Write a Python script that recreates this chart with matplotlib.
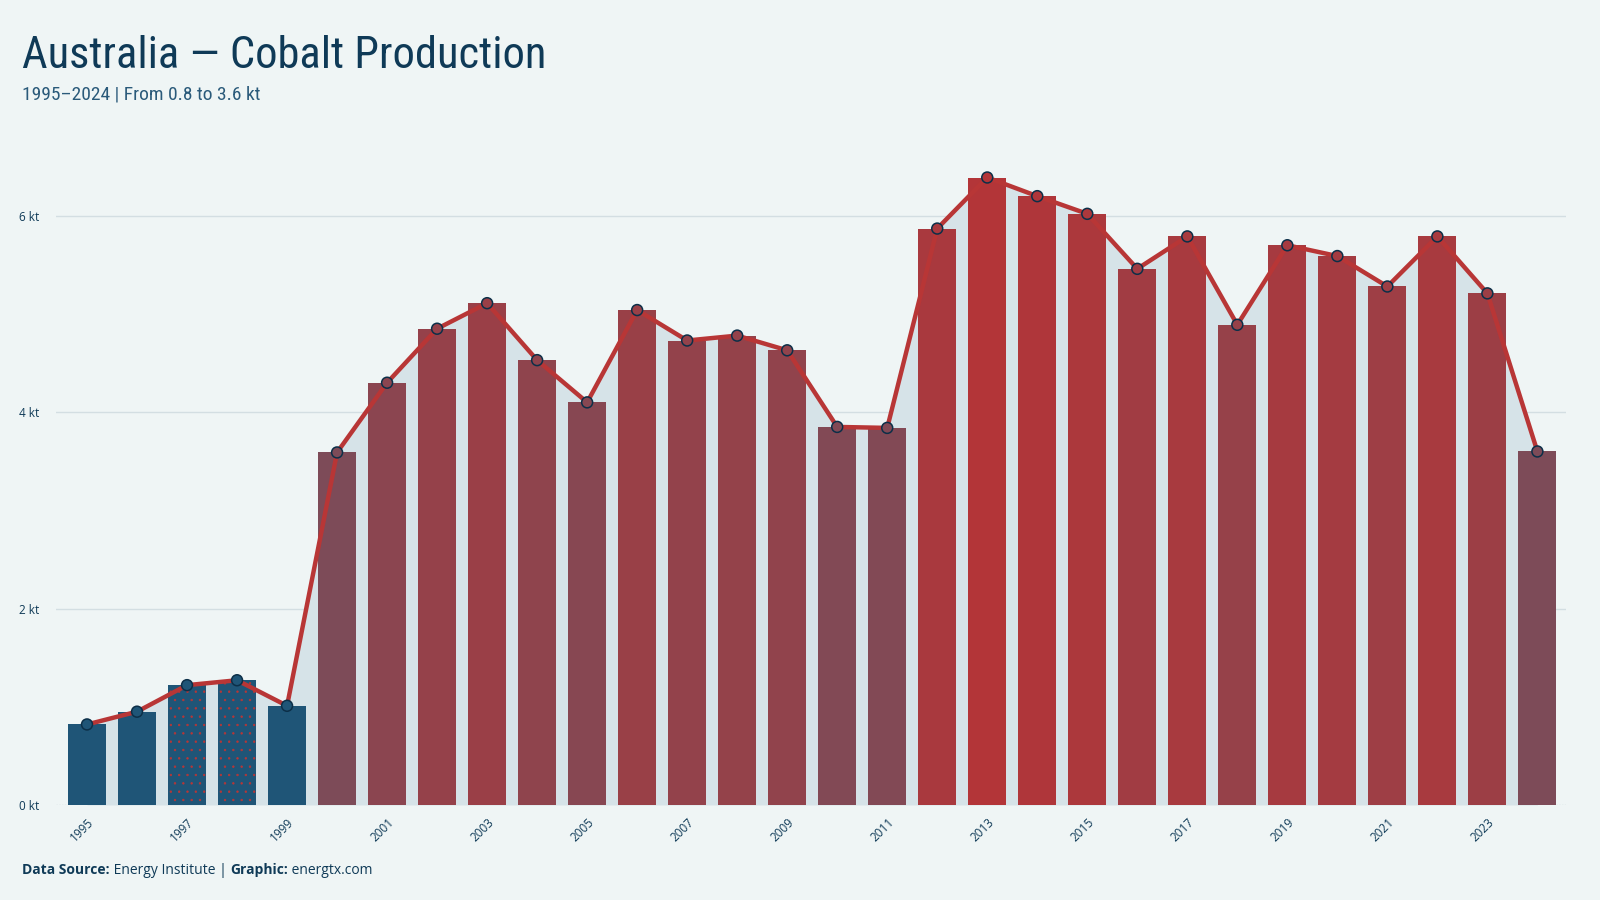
#!/usr/bin/env python3
"""Australia cobalt production, bars with line overlay."""
import numpy as np
import matplotlib
matplotlib.use("Agg")
import matplotlib.pyplot as plt
from matplotlib.colors import LinearSegmentedColormap, Normalize
from matplotlib import font_manager

years = list(range(1995, 2025))
production_kt = [0.82, 0.95, 1.22, 1.27, 1.01, 3.59, 4.30, 4.85, 5.11, 4.53,
                 4.10, 5.04, 4.73, 4.78, 4.63, 3.85, 3.84, 5.87, 6.39, 6.20,
                 6.02, 5.46, 5.79, 4.89, 5.70, 5.59, 5.28, 5.79, 5.21, 3.60]
hatched_years = [1997, 1998]
y_ticks = [0, 2, 4, 6]
y_tick_labels = ["0 kt", "2 kt", "4 kt", "6 kt"]

BG = "#eff5f5"
NAVY = "#0f3a57"
BLUE = "#1f5577"
LINE_RED = "#b83636"
FILL = "#d6e3e8"
GRID = "#d3dee2"


def pick_font(names, fallback="DejaVu Sans"):
    available = {f.name for f in font_manager.fontManager.ttflist}
    for n in names:
        if n in available:
            return n
    return fallback


title_font = pick_font(["Roboto Condensed", "Liberation Sans Narrow", "Open Sans"])
body_font = pick_font(["Open Sans", "Noto Sans", "Lato"])

vals = np.array(production_kt)
x = np.array(years)

cmap = LinearSegmentedColormap.from_list("prod", ["#7d4b58", "#b33538"])
hi = vals[vals >= 2]
norm = Normalize(vmin=hi.min(), vmax=hi.max())
colors = [BLUE if v < 2 else cmap(norm(v)) for v in vals]

fig = plt.figure(figsize=(16, 9), dpi=100, facecolor=BG)
ax = fig.add_axes([0.035, 0.1056, 0.944, 0.731])
ax.set_facecolor(BG)

ax.fill_between(x, 0, vals, color=FILL, zorder=1, linewidth=0)
ax.bar(x, vals, width=0.76, color=colors, zorder=2, linewidth=0)
hmask = np.isin(x, hatched_years)
plt.rcParams["hatch.linewidth"] = 0.5
ax.bar(x[hmask], vals[hmask], width=0.76, facecolor="none",
       edgecolor=LINE_RED, hatch="..", linewidth=0, zorder=3)

ax.plot(x, vals, color=LINE_RED, linewidth=3.2, zorder=4, solid_capstyle="round")
ax.scatter(x, vals, s=62, c=colors, edgecolors="#0c2f48", linewidths=1.1, zorder=5)

for t in y_ticks[1:]:
    ax.axhline(t, color=GRID, linewidth=1.0, zorder=0)
ax.axhline(0, color="#c9d6da", linewidth=1.0, linestyle=(0, (1, 1)), zorder=0)

ax.set_xlim(1994.38, 2024.58)
ax.set_ylim(0, 6.7)
ax.set_yticks(y_ticks)
ax.set_yticklabels(y_tick_labels)
ax.set_xticks(years[::2])
ax.set_xticklabels([str(y) for y in years[::2]], rotation=45, ha="right",
                   rotation_mode="anchor")
ax.tick_params(axis="both", length=0, labelsize=8.5, labelcolor=NAVY)
ax.tick_params(axis="y", pad=12)
ax.tick_params(axis="x", pad=8)
for lab in ax.get_xticklabels() + ax.get_yticklabels():
    lab.set_fontfamily(body_font)
for s in ax.spines.values():
    s.set_visible(False)

fig.text(0.014, 0.925, "Australia \u2014 Cobalt Production", fontsize=32,
         color=NAVY, family=title_font, va="baseline")
fig.text(0.014, 0.889, "1995\u20132024 | From 0.8 to 3.6 kt", fontsize=14,
         color="#2a5a7a", family=title_font, va="baseline")

# footer with mixed weights
parts = [("Data Source:", "bold"), (" Energy Institute | ", "normal"),
         ("Graphic:", "bold"), (" energtx.com", "normal")]
fig.canvas.draw()
renderer = fig.canvas.get_renderer()
xpos = 0.014
for txt, weight in parts:
    t = fig.text(xpos, 0.029, txt, fontsize=10, color=NAVY, family=body_font,
                 weight=weight, va="baseline")
    bb = t.get_window_extent(renderer)
    xpos += bb.width / fig.bbox.width

fig.savefig("out.png", dpi=100, facecolor=BG)
